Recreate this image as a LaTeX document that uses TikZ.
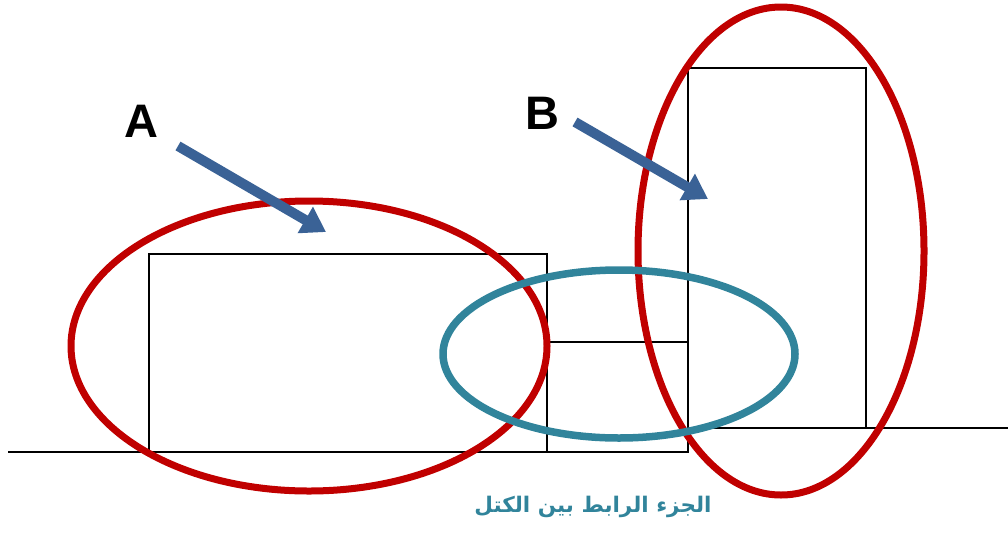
\documentclass[tikz,border=0pt]{standalone}
\usepackage{fontspec}
\setmainfont{Liberation Sans}
\newfontfamily\arabicfont[Script=Arabic,BoldFont={DejaVu Sans Bold}]{DejaVu Sans}
\TeXXeTstate=1
\usetikzlibrary{arrows.meta}
\definecolor{ringred}{HTML}{C00000}
\definecolor{ringteal}{HTML}{31849B}
\definecolor{arrowblue}{HTML}{3A6296}
\begin{document}
\begin{tikzpicture}[x=1pt,y=-1pt,
  blockline/.style={black,line width=1.2pt},
  redring/.style={ringred,line width=7pt},
  tealring/.style={ringteal,line width=7.5pt},
  bluearrow/.style={arrowblue,line width=10pt,-{Triangle[length=24pt,width=29pt]}},
  letter/.style={font=\fontsize{47}{50}\selectfont\bfseries,text=black,inner sep=0pt}]
\useasboundingbox (0,0) rectangle (1008,533);
% blocks and ground
\draw[blockline] (149,254) rectangle (547,452);
\draw[blockline] (547,342) rectangle (688,452);
\draw[blockline] (688,68) rectangle (866,428);
\draw[blockline] (8,452) -- (149,452);
\draw[blockline] (866,428) -- (1008,428);
% rings
\draw[redring] (309,346) ellipse [x radius=238, y radius=145];
\draw[redring] (781,251) ellipse [x radius=143, y radius=244];
\draw[tealring] (619,354) ellipse [x radius=176, y radius=84];
% labels
\node[letter] (A) at (141,121) {A};
\node[letter] (B) at (542,113) {B};
\coordinate (Astart) at (178,146);
\coordinate (Aend) at (326,232);
\coordinate (Bstart) at (575,122);
\coordinate (Bend) at (708,199);
\draw[bluearrow] (Astart) -- (Aend);
\draw[bluearrow] (Bstart) -- (Bend);
\node[text=ringteal,font=\arabicfont\bfseries\fontsize{21.5}{25}\selectfont,inner sep=0pt] (cap) at (593,507) {\beginR الجزء الرابط بين الكتل\endR};
\end{tikzpicture}
\end{document}
